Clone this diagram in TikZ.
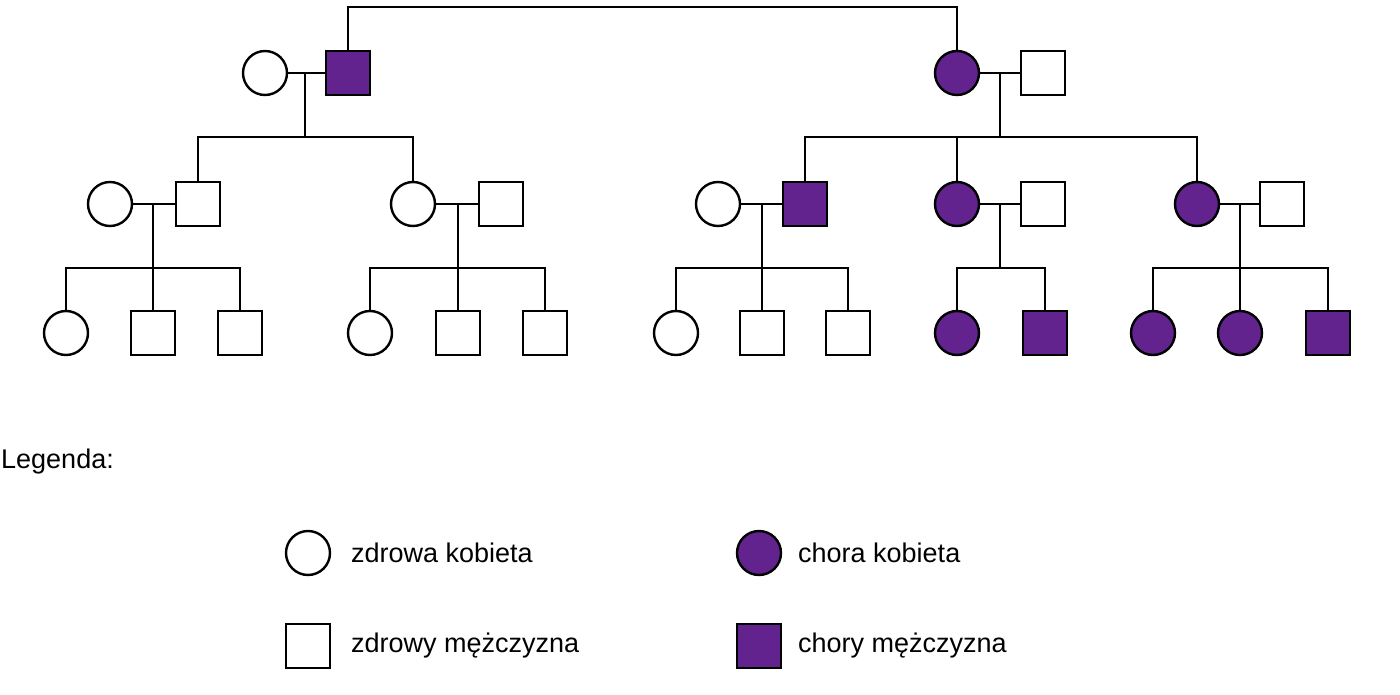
\documentclass[tikz,border=0pt]{standalone}
\usepackage{fontspec}
\setmainfont{Liberation Sans}
\definecolor{chora}{HTML}{62238F}
\begin{document}
\begin{tikzpicture}[x=1pt,y=-1pt,line width=2.4pt,
 f/.style={circle,draw=black,minimum size=44pt,inner sep=0pt,fill=white},
 m/.style={rectangle,draw=black,minimum size=44pt,inner sep=0pt,fill=white},
 af/.style={f,fill=chora},
 am/.style={m,fill=chora},
 txt/.style={anchor=west,font=\fontsize{27}{30}\selectfont,inner sep=0pt}]
\useasboundingbox (0,0) rectangle (1400,695);
% generation 1
\node[f] (a1) at (265,73) {};
\node[am] (a2) at (348,73) {};
\node[af] (b1) at (957,73) {};
\node[m] (b2) at (1043,73) {};
\coordinate (t1) at (348,7); \coordinate (t2) at (957,7);
\draw (a2.north) -- (t1) -- (t2) -- (b1.north);
% generation 2
\node[f] (c1) at (110,204) {}; \node[m] (c2) at (198,204) {};
\node[f] (d1) at (413,204) {}; \node[m] (d2) at (501,204) {};
\node[f] (e1) at (718,204) {}; \node[am] (e2) at (805,204) {};
\node[af] (g1) at (957,204) {}; \node[m] (g2) at (1043,204) {};
\node[af] (h1) at (1197,204) {}; \node[m] (h2) at (1282,204) {};
% generation 3
\node[f] (c3) at (66,333) {}; \node[m] (c4) at (153,333) {}; \node[m] (c5) at (240,333) {};
\node[f] (d3) at (370,333) {}; \node[m] (d4) at (458,333) {}; \node[m] (d5) at (545,333) {};
\node[f] (e3) at (676,333) {}; \node[m] (e4) at (762,333) {}; \node[m] (e5) at (848,333) {};
\node[af] (g3) at (957,333) {}; \node[am] (g4) at (1045,333) {};
\node[af] (h3) at (1153,333) {}; \node[af] (h4) at (1240,333) {}; \node[am] (h5) at (1328,333) {};
% couple lines
\foreach \p/\q in {a1/a2,b1/b2,c1/c2,d1/d2,e1/e2,g1/g2,h1/h2} \draw (\p) -- (\q);
% descents
\coordinate (ma) at (305,73); \coordinate (ja) at (305,137);
\draw (ma) -- (ja); \draw (c2.north) |- (ja) -| (d1.north);
\coordinate (mb) at (1000,73); \coordinate (jb) at (1000,137);
\draw (mb) -- (jb); \draw (e2.north) |- (jb) -| (h1.north); \draw (g1.north) -- (g1.north |- jb);
\foreach \mx/\l/\mid/\r in {153/c3/c4/c5,458/d3/d4/d5,762/e3/e4/e5,1240/h3/h4/h5}{
 \draw (\mx,204) -- (\mx,268);
 \draw (\l.north) |- (\mx,268) -| (\r.north);
 \draw (\mid.north) -- (\mid.north |- 0,268);
}
\draw (1000,204) -- (1000,268);
\draw (g3.north) |- (1000,268) -| (g4.north);
% legend
\node[txt] (leg) at (0,462) {Legenda:};
\node[f] (l1) at (308,553) {}; \node[txt] (l1t) at (350,553) {zdrowa kobieta};
\node[af] (l2) at (759,553) {}; \node[txt] (l2t) at (797,553) {chora kobieta};
\node[m] (l3) at (308,646) {}; \node[txt] (l3t) at (350,646) {zdrowy mężczyzna};
\node[am] (l4) at (759,646) {}; \node[txt] (l4t) at (797,646) {chory mężczyzna};
\end{tikzpicture}
\end{document}
